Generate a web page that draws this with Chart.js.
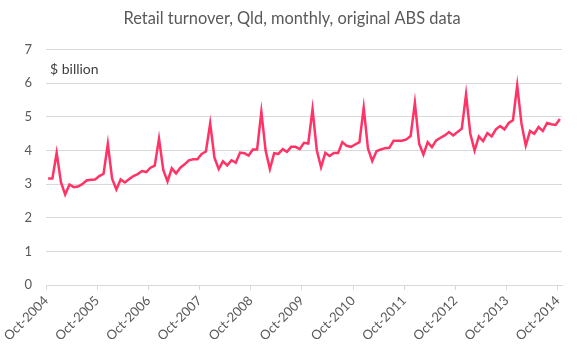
<!DOCTYPE html>
<html>
<head>
<meta charset="utf-8">
<script src="https://cdn.jsdelivr.net/npm/chart.js@4.4.1/dist/chart.umd.min.js"></script>
<style>
  html, body { margin: 0; padding: 0; background: #ffffff; }
  #wrap { width: 584px; height: 355px; }
</style>
</head>
<body>
<div id="wrap"><canvas id="c" width="584" height="355"></canvas></div>
<script>
// Retail turnover, Qld, monthly, $ billion, Oct-2004 .. Oct-2014
const turnover = [
  3.17, 3.17, 3.93, 3.06, 2.69, 2.99, 2.91, 2.93, 3.00, 3.11, 3.13, 3.14,
  3.24, 3.31, 4.20, 3.16, 2.84, 3.14, 3.05, 3.15, 3.24, 3.30, 3.39, 3.36,
  3.49, 3.55, 4.35, 3.42, 3.08, 3.47, 3.32, 3.49, 3.59, 3.71, 3.74, 3.74,
  3.90, 3.97, 4.81, 3.79, 3.45, 3.68, 3.56, 3.71, 3.64, 3.94, 3.92, 3.85,
  4.03, 4.03, 5.15, 4.00, 3.45, 3.92, 3.90, 4.04, 3.96, 4.11, 4.11, 4.04,
  4.23, 4.21, 5.23, 4.01, 3.50, 3.93, 3.84, 3.93, 3.93, 4.25, 4.14, 4.11,
  4.18, 4.25, 5.28, 4.06, 3.69, 3.98, 4.03, 4.07, 4.08, 4.29, 4.29, 4.29,
  4.33, 4.43, 5.42, 4.20, 3.88, 4.25, 4.10, 4.30, 4.38, 4.45, 4.55, 4.45,
  4.55, 4.65, 5.67, 4.50, 4.00, 4.42, 4.28, 4.52, 4.42, 4.63, 4.73, 4.63,
  4.82, 4.90, 5.94, 4.80, 4.15, 4.58, 4.50, 4.70, 4.58, 4.82, 4.78, 4.76,
  4.94
];
const tickLabels = ['Oct-2004','Oct-2005','Oct-2006','Oct-2007','Oct-2008','Oct-2009',
                    'Oct-2010','Oct-2011','Oct-2012','Oct-2013','Oct-2014'];
const yTicks = [0, 1, 2, 3, 4, 5, 6, 7];
const titleText = 'Retail turnover, Qld, monthly, original ABS data';
const unitText = '$ billion';

const FONT = 'Lato, "Open Sans", sans-serif';
const monthsPerTick = 12;

const points = turnover.map((v, i) => ({ x: i + 0.5, y: v }));

const unitLabel = {
  id: 'unitLabel',
  afterDraw(chart) {
    const { ctx, chartArea } = chart;
    const y = chart.scales.y.getPixelForValue(6.4);
    ctx.save();
    ctx.font = '14px ' + FONT;
    ctx.fillStyle = '#404040';
    ctx.textBaseline = 'middle';
    ctx.textAlign = 'left';
    ctx.fillText(unitText, chartArea.left + 4, y);
    ctx.restore();
  }
};

new Chart(document.getElementById('c'), {
  type: 'line',
  data: {
    datasets: [{
      data: points,
      borderColor: '#FF3366',
      borderWidth: 2.5,
      pointRadius: 0,
      tension: 0,
      fill: false
    }]
  },
  options: {
    responsive: false,
    animation: false,
    devicePixelRatio: 1,
    layout: { padding: { left: 0, right: 0, top: 0, bottom: 0 } },
    plugins: {
      legend: { display: false },
      tooltip: { enabled: false },
      title: {
        display: true,
        text: titleText,
        color: '#595959',
        font: { family: FONT, size: 16.4, weight: 'normal' },
        padding: { top: 9, bottom: 21 }
      }
    },
    scales: {
      x: {
        type: 'linear',
        min: 0,
        max: turnover.length,
        afterBuildTicks(scale) {
          scale.ticks = tickLabels.map((_, k) => ({ value: k * monthsPerTick }));
        },
        afterFit(scale) { scale.height = 70; },
        ticks: {
          autoSkip: false,
          minRotation: 45,
          maxRotation: 45,
          padding: 3,
          color: '#595959',
          font: { family: FONT, size: 13 },
          callback(value) { return tickLabels[Math.round(value / monthsPerTick)]; }
        },
        grid: {
          drawOnChartArea: false,
          drawTicks: true,
          tickLength: 5,
          color: '#d9d9d9'
        },
        border: { display: true, color: '#d9d9d9', width: 1 }
      },
      y: {
        min: 0,
        max: 7,
        afterBuildTicks(scale) {
          scale.ticks = yTicks.map(v => ({ value: v }));
        },
        afterFit(scale) { scale.width = 46; },
        ticks: {
          padding: 14,
          color: '#595959',
          font: { family: FONT, size: 13 }
        },
        grid: { color: '#d9d9d9', drawTicks: false },
        border: { display: false }
      },
      spacer: {
        type: 'linear',
        position: 'right',
        display: true,
        afterFit(scale) { scale.width = 22; },
        ticks: { display: false },
        grid: { display: false, drawTicks: false },
        border: { display: false }
      }
    }
  },
  plugins: [unitLabel]
});
</script>
</body>
</html>
